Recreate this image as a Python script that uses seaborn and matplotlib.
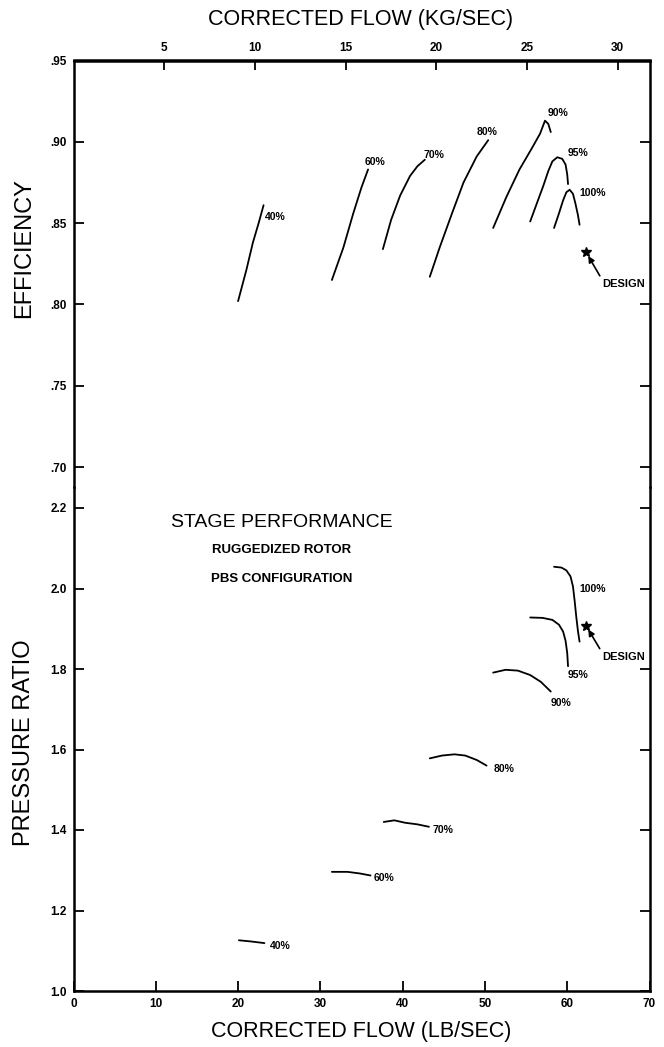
import numpy as np
import pandas as pd
import seaborn as sns
import matplotlib.pyplot as plt
from matplotlib.ticker import FuncFormatter

# ---------------- data ----------------
speeds = ["40%", "60%", "70%", "80%", "90%", "95%", "100%"]

# efficiency map: corrected flow (lb/s) vs efficiency
eff_flow_40 = [20.0, 21.0, 21.8, 22.5, 23.1]
eff_val_40 = [0.802, 0.821, 0.838, 0.850, 0.861]
eff_flow_60 = [31.4, 32.8, 34.0, 35.0, 35.8]
eff_val_60 = [0.815, 0.835, 0.856, 0.872, 0.883]
eff_flow_70 = [37.6, 38.6, 39.7, 40.9, 41.8, 42.7]
eff_val_70 = [0.834, 0.852, 0.867, 0.879, 0.885, 0.889]
eff_flow_80 = [43.3, 44.5, 46.0, 47.4, 49.0, 50.4]
eff_val_80 = [0.817, 0.835, 0.856, 0.875, 0.891, 0.901]
eff_flow_90 = [51.0, 52.6, 54.2, 55.7, 56.7, 57.3, 57.7, 58.0]
eff_val_90 = [0.847, 0.866, 0.883, 0.896, 0.905, 0.913, 0.911, 0.906]
eff_flow_95 = [55.5, 56.3, 57.1, 57.7, 58.2, 58.8, 59.4, 59.8, 60.0, 60.1]
eff_val_95 = [0.851, 0.862, 0.873, 0.882, 0.888, 0.8905, 0.8895, 0.886, 0.880, 0.874]
eff_flow_100 = [58.4, 59.0, 59.5, 59.9, 60.3, 60.7, 61.0, 61.3, 61.5]
eff_val_100 = [0.847, 0.856, 0.864, 0.869, 0.8705, 0.868, 0.862, 0.855, 0.849]

# pressure ratio map
pr_flow_40 = [20.1, 21.6, 23.2]
pr_val_40 = [1.126, 1.123, 1.119]
pr_flow_60 = [31.4, 33.3, 34.8, 36.1]
pr_val_60 = [1.296, 1.296, 1.292, 1.287]
pr_flow_70 = [37.7, 39.0, 40.3, 41.8, 43.2]
pr_val_70 = [1.420, 1.424, 1.418, 1.414, 1.408]
pr_flow_80 = [43.3, 44.8, 46.3, 47.6, 49.0, 50.2]
pr_val_80 = [1.578, 1.585, 1.588, 1.585, 1.574, 1.560]
pr_flow_90 = [51.0, 52.5, 54.0, 55.5, 56.8, 58.0]
pr_val_90 = [1.791, 1.798, 1.796, 1.785, 1.768, 1.744]
pr_flow_95 = [55.5, 57.0, 58.2, 59.0, 59.5, 59.8, 60.0, 60.1]
pr_val_95 = [1.928, 1.927, 1.922, 1.910, 1.893, 1.870, 1.840, 1.807]
pr_flow_100 = [58.4, 59.3, 59.9, 60.4, 60.7, 60.9, 61.1, 61.3, 61.5]
pr_val_100 = [2.054, 2.052, 2.045, 2.030, 2.005, 1.970, 1.930, 1.895, 1.868]

# design point
design_flow = 62.3
design_eff = 0.832
design_pr = 1.907

# speed-label anchor points (flow, value)
eff_label_flow = [23.3, 35.4, 42.5, 49.0, 57.6, 60.1, 61.5]
eff_label_val = [0.8537, 0.8876, 0.8919, 0.906, 0.9177, 0.893, 0.8685]
pr_label_flow = [23.9, 36.5, 43.6, 51.0, 58.0, 60.1, 61.5]
pr_label_val = [1.112, 1.280, 1.399, 1.552, 1.716, 1.785, 1.999]

x_ticks_lb = [0, 10, 20, 30, 40, 50, 60, 70]
x_ticks_kg = [5, 10, 15, 20, 25, 30]
eff_ticks = [0.70, 0.75, 0.80, 0.85, 0.90, 0.95]
pr_ticks = [1.0, 1.2, 1.4, 1.6, 1.8, 2.0, 2.2]
LB_PER_KG = 2.2046

# ---------------- build long tables ----------------
eff_flows = [eff_flow_40, eff_flow_60, eff_flow_70, eff_flow_80, eff_flow_90, eff_flow_95, eff_flow_100]
eff_vals = [eff_val_40, eff_val_60, eff_val_70, eff_val_80, eff_val_90, eff_val_95, eff_val_100]
pr_flows = [pr_flow_40, pr_flow_60, pr_flow_70, pr_flow_80, pr_flow_90, pr_flow_95, pr_flow_100]
pr_vals = [pr_val_40, pr_val_60, pr_val_70, pr_val_80, pr_val_90, pr_val_95, pr_val_100]

def long_table(flows, vals):
    rows = []
    for s, f, v in zip(speeds, flows, vals):
        for i, (a, b) in enumerate(zip(f, v)):
            rows.append({"speed": s, "order": i, "flow": a, "value": b})
    return pd.DataFrame(rows)

df_eff = long_table(eff_flows, eff_vals)
df_pr = long_table(pr_flows, pr_vals)

# ---------------- figure ----------------
sns.set_theme(style="white")
plt.rcParams['font.family'] = ['Liberation Sans', 'DejaVu Sans']
plt.rcParams['text.color'] = 'black'
plt.rcParams['axes.labelcolor'] = 'black'
plt.rcParams['xtick.color'] = 'black'
plt.rcParams['ytick.color'] = 'black'

W, H = 664, 1047
fig = plt.figure(figsize=(W / 100, H / 100), dpi=100)
left_px, right_px = 73.5, 649.5
top_px, bottom_px, split_px = 60.5, 991.0, 487.0

ax_p = fig.add_axes([left_px / W, (H - bottom_px) / H, (right_px - left_px) / W, (bottom_px - split_px) / H])
ax_e = fig.add_axes([left_px / W, (H - split_px) / H, (right_px - left_px) / W, (split_px - top_px) / H])

pal = {s: "black" for s in speeds}
sns.lineplot(data=df_eff, x="flow", y="value", hue="speed",
             palette=pal, sort=False, estimator=None, legend=False, lw=1.3, ax=ax_e)
sns.lineplot(data=df_pr, x="flow", y="value", hue="speed",
             palette=pal, sort=False, estimator=None, legend=False, lw=1.3, ax=ax_p)

# scales
pr_px_per_unit = 80.5 / 0.2
eff_px_per_unit = 81.3 / 0.05
ax_p.set_xlim(0, 70)
ax_e.set_xlim(0, 70)
ax_p.set_ylim(1.0, 1.0 + (bottom_px - split_px) / pr_px_per_unit)
ax_e.set_ylim(0.95 - (split_px - top_px) / eff_px_per_unit, 0.95)

# speed labels
for s, fx, fy in zip(speeds, eff_label_flow, eff_label_val):
    ax_e.text(fx, fy, s, fontsize=7.5, fontweight="bold", ha="left", va="center", color="black")
for s, fx, fy in zip(speeds, pr_label_flow, pr_label_val):
    ax_p.text(fx, fy, s, fontsize=7.5, fontweight="bold", ha="left", va="center", color="black")

# design point markers and arrows
ax_e.plot([design_flow], [design_eff], marker="*", color="black", ms=7, ls="none")
ax_p.plot([design_flow], [design_pr], marker="*", color="black", ms=7, ls="none")
arrow = dict(arrowstyle="-|>", color="black", lw=1.2, mutation_scale=9, relpos=(0.0, 0.85), shrinkA=0, shrinkB=3)
ax_e.annotate("DESIGN", xy=(design_flow, design_eff), xytext=(64.3, 0.8125), color="black",
              fontsize=8, fontweight="bold", ha="left", va="center", arrowprops=arrow)
ax_p.annotate("DESIGN", xy=(design_flow, design_pr), xytext=(64.3, 1.830), color="black",
              fontsize=8, fontweight="bold", ha="left", va="center", arrowprops=arrow)

# in-plot titles
ax_p.text(25.3, 2.163, "STAGE PERFORMANCE", fontsize=14, ha="center", va="center", color="black")
ax_p.text(25.3, 2.096, "RUGGEDIZED ROTOR", fontsize=9.5, fontweight="bold", ha="center", va="center", color="black")
ax_p.text(25.3, 2.024, "PBS CONFIGURATION", fontsize=9.5, fontweight="bold", ha="center", va="center", color="black")

# axes styling
for ax in (ax_e, ax_p):
    ax.set_xlabel("")
    ax.set_ylabel("")
    for sp in ax.spines.values():
        sp.set_linewidth(1.8)
        sp.set_color("black")
    ax.tick_params(axis="both", direction="in", length=7, width=1.3, colors="black",
                   labelsize=8.5, left=True, right=True)
ax_e.spines["bottom"].set_visible(False)
ax_p.spines["top"].set_visible(False)

ax_e.set_yticks(eff_ticks)
ax_e.yaxis.set_major_formatter(FuncFormatter(lambda v, p: f"{v:.2f}".lstrip("0")))
ax_e.tick_params(axis="x", bottom=False, labelbottom=False, top=False)
ax_p.set_yticks(pr_ticks)
ax_p.yaxis.set_major_formatter(FuncFormatter(lambda v, p: f"{v:.1f}"))
ax_p.set_xticks(x_ticks_lb)
ax_p.tick_params(axis="x", bottom=True, top=False, pad=5)
ax_p.tick_params(axis="y", pad=5)
ax_e.tick_params(axis="y", pad=5)

sec = ax_e.secondary_xaxis("top", functions=(lambda x: x / LB_PER_KG, lambda x: x * LB_PER_KG))
sec.set_xticks(x_ticks_kg)
sec.tick_params(direction="in", length=7, width=1.3, labelsize=8.5, pad=5, colors="black")
sec.spines["top"].set_linewidth(1.8)
sec.spines["top"].set_color("black")

for ax in (ax_e, ax_p):
    for lab in ax.get_xticklabels() + ax.get_yticklabels():
        lab.set_fontweight("bold")
for lab in sec.get_xticklabels():
    lab.set_fontweight("bold")

# axis titles
fig.text(361 / W, 1 - 20 / H, "CORRECTED FLOW (KG/SEC)", fontsize=15.5, ha="center", va="center", color="black")
fig.text(361 / W, 1 - 1031 / H, "CORRECTED FLOW (LB/SEC)", fontsize=15.5, ha="center", va="center", color="black")
fig.text(24 / W, 1 - 248 / H, "EFFICIENCY", fontsize=17, rotation=90, ha="center", va="center", color="black")
fig.text(24 / W, 1 - 743 / H, "PRESSURE RATIO", fontsize=17, rotation=90, ha="center", va="center", color="black")

fig.savefig("out.png", dpi=100, facecolor="white")
